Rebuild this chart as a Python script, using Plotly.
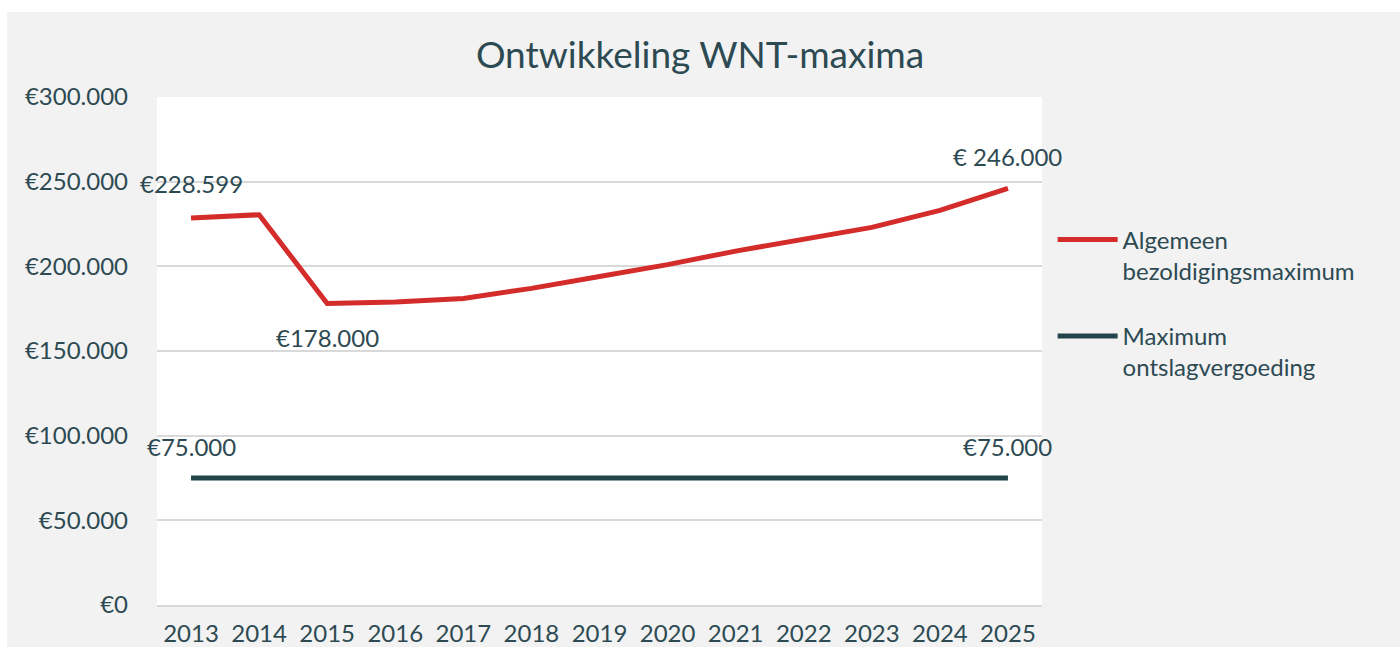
import plotly.graph_objects as go

years = [str(y) for y in range(2013, 2026)]
algemeen = [228599, 230474, 178000, 179000, 181000, 187000, 194000, 201000,
            209000, 216000, 223000, 233000, 246000]
ontslag = [75000] * 13

series_names = ["Algemeen<br>bezoldigingsmaximum", "Maximum<br>ontslagvergoeding"]
y_tickvals = [0, 50000, 100000, 150000, 200000, 250000, 300000]
y_ticktext = ["€0", "€50.000", "€100.000", "€150.000", "€200.000", "€250.000", "€300.000"]

# data labels: (series index, point index, text, vertical shift)
labels = [
    (0, 0, "€228.599", 34),
    (0, 2, "€178.000", -34),
    (0, 12, "€ 246.000", 32),
    (1, 0, "€75.000", 32),
    (1, 12, "€75.000", 32),
]

RED = "#d42b2b"
DARK = "#23434b"
TXT = "#2d4a53"
FONT = "Lato"

fig = go.Figure()
fig.add_trace(go.Scatter(x=years, y=algemeen, mode="lines", name=series_names[0],
                         line=dict(color=RED, width=5), legendgroup="a"))
fig.add_trace(go.Scatter(x=years, y=ontslag, mode="lines", name=series_names[1],
                         line=dict(color=DARK, width=5), legendgroup="b"))

series = [algemeen, ontslag]
annotations = []
for si, pi, txt, shift in labels:
    annotations.append(dict(xref="x", yref="y", x=pi, y=series[si][pi], text=txt,
                            showarrow=False, yshift=shift, xanchor="center",
                            yanchor="middle",
                            font=dict(family=FONT, size=24, color=TXT)))

shapes = [
    dict(type="rect", xref="paper", yref="paper", x0=-0.3, x1=1.6, y0=1.1673, y1=1.4,
         fillcolor="white", line=dict(width=0), layer="below"),
    dict(type="rect", xref="paper", yref="paper", x0=-0.3, x1=-0.1695, y0=-0.3, y1=1.4,
         fillcolor="white", line=dict(width=0), layer="below"),
]

fig.update_layout(
    width=1400, height=647,
    margin=dict(l=157, r=358, t=97, b=42, autoexpand=False),
    paper_bgcolor="#f2f2f2",
    plot_bgcolor="white",
    shapes=shapes,
    annotations=annotations,
    title=dict(text="Ontwikkeling WNT-maxima", x=0.5, xanchor="center",
               y=1 - 55 / 647, yanchor="middle",
               font=dict(family=FONT, size=37, color=TXT)),
    font=dict(family=FONT, size=24, color=TXT),
    xaxis=dict(type="category", range=[-0.5, 12.5], showgrid=False, automargin=False,
               showline=True, linecolor="#d9d9d9", linewidth=2, ticks="",
               tickfont=dict(family=FONT, size=24, color=TXT), ticklabelstandoff=6),
    yaxis=dict(range=[0, 300000], tickvals=y_tickvals, ticktext=y_ticktext,
               automargin=False,
               showgrid=True, gridcolor="#d9d9d9", gridwidth=2, zeroline=False,
               ticks="", tickfont=dict(family=FONT, size=24, color=TXT),
               ticklabelstandoff=28),
    legend=dict(x=1.012, y=0.763, xanchor="left", yanchor="top",
                bgcolor="rgba(0,0,0,0)", valign="top", tracegroupgap=31,
                itemwidth=60, font=dict(family=FONT, size=24, color=TXT)),
    showlegend=True,
)

fig.write_html("out.html", config={"displayModeBar": False},
               post_script="document.body.style.margin='0';")
